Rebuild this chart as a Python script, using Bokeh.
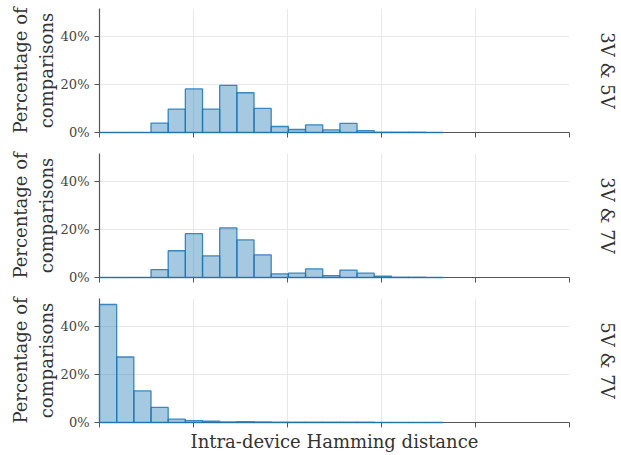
import numpy as np
from bokeh.plotting import figure
from bokeh.layouts import column
from bokeh.models import (Range1d, FixedTicker, PrintfTickFormatter,
                          CustomJSTickFormatter, LinearAxis)
from bokeh.embed import file_html
from bokeh.resources import INLINE

# Data: percentage of comparisons per Hamming-distance bin (20 bins)
bin_width = 0.009133
pct_3v_5v = [0.0, 0.0, 0.0, 3.9, 9.7, 18.1, 9.7, 19.6, 16.5, 10.0,
             2.5, 1.25, 3.2, 1.1, 3.75, 0.8, 0.15, 0.1, 0.1, 0.05]
pct_3v_7v = [0.0, 0.0, 0.0, 3.3, 11.1, 18.2, 9.0, 20.6, 15.6, 9.4,
             1.5, 1.8, 3.6, 0.8, 3.1, 1.8, 0.6, 0.1, 0.1, 0.05]
pct_5v_7v = [49.0, 27.2, 13.1, 6.25, 1.4, 0.8, 0.55, 0.3, 0.4, 0.2,
             0.15, 0.1, 0.1, 0.1, 0.1, 0.1, 0.05, 0.05, 0.05, 0.05]
panel_labels = ["3V & 5V", "3V & 7V", "5V & 7V"]
x_ticks = [0.0, 0.05, 0.10, 0.15, 0.20, 0.25]
y_ticks = [0, 20, 40]
x_max = 0.25
y_max = 51.5

FONT = "DejaVu Serif"
BLUE = "#1f77b4"

def make_panel(values, label, last):
    p = figure(frame_width=470, frame_height=124,
               x_range=Range1d(0, x_max), y_range=Range1d(0, y_max),
               output_backend="svg", toolbar_location=None,
               min_border_left=99, min_border_right=0,
               min_border_top=8,
               min_border_bottom=(26 if last else 13))
    n = len(values)
    left = [i * bin_width for i in range(n)]
    right = [(i + 1) * bin_width for i in range(n)]
    r = p.quad(left=left, right=right, bottom=0, top=values,
               fill_color=BLUE, fill_alpha=0.4,
               line_color=BLUE, line_alpha=0.85, line_width=1.3)
    r.level = "overlay"
    p.outline_line_color = None
    p.background_fill_color = "white"

    p.xaxis.ticker = FixedTicker(ticks=x_ticks)
    p.yaxis.ticker = FixedTicker(ticks=y_ticks)
    p.xaxis.formatter = CustomJSTickFormatter(code="return ''")
    p.xaxis.major_label_standoff = 0
    p.yaxis.formatter = PrintfTickFormatter(format="%d%%")
    for ax in (p.xaxis, p.yaxis):
        ax.axis_line_color = "#555555"
        ax.axis_line_width = 1.2
        ax.major_tick_line_color = "#555555"
        ax.major_tick_out = 5
        ax.major_tick_in = 0
        ax.minor_tick_line_color = None
    p.yaxis.major_label_text_font = FONT
    p.yaxis.major_label_text_font_size = "13px"
    p.yaxis.major_label_text_color = "#444444"
    p.yaxis.major_label_standoff = 5

    p.yaxis.axis_label = "Percentage of\ncomparisons"
    p.yaxis.axis_label_text_font = FONT
    p.yaxis.axis_label_text_font_size = "18px"
    p.yaxis.axis_label_text_font_style = "normal"
    p.yaxis.axis_label_text_color = "#333333"
    p.yaxis.axis_label_standoff = 1

    if last:
        p.xaxis.axis_label = "Intra-device Hamming distance"
        p.xaxis.axis_label_text_font = FONT
        p.xaxis.axis_label_text_font_size = "18px"
        p.xaxis.axis_label_text_font_style = "normal"
        p.xaxis.axis_label_text_color = "#333333"
        p.xaxis.axis_label_standoff = 3

    p.xgrid.ticker = FixedTicker(ticks=x_ticks)
    p.ygrid.ticker = FixedTicker(ticks=y_ticks)
    p.xgrid.grid_line_color = "#e8e8e8"
    p.ygrid.grid_line_color = "#e8e8e8"

    # panel label on the right, as the label of a tick-less right axis
    side = LinearAxis(ticker=FixedTicker(ticks=[]), axis_line_color=None,
                      major_tick_out=0, major_tick_in=0,
                      major_tick_line_color=None, minor_tick_line_color=None,
                      major_label_standoff=0,
                      axis_label=label, axis_label_standoff=27,
                      axis_label_text_font=FONT,
                      axis_label_text_font_size="18px",
                      axis_label_text_font_style="normal",
                      axis_label_text_color="#333333")
    p.add_layout(side, "right")
    return p

p1 = make_panel(pct_3v_5v, panel_labels[0], False)
p2 = make_panel(pct_3v_7v, panel_labels[1], False)
p3 = make_panel(pct_5v_7v, panel_labels[2], True)

layout = column(p1, p2, p3, spacing=0)
open("out.html", "w").write(file_html(layout, INLINE))
